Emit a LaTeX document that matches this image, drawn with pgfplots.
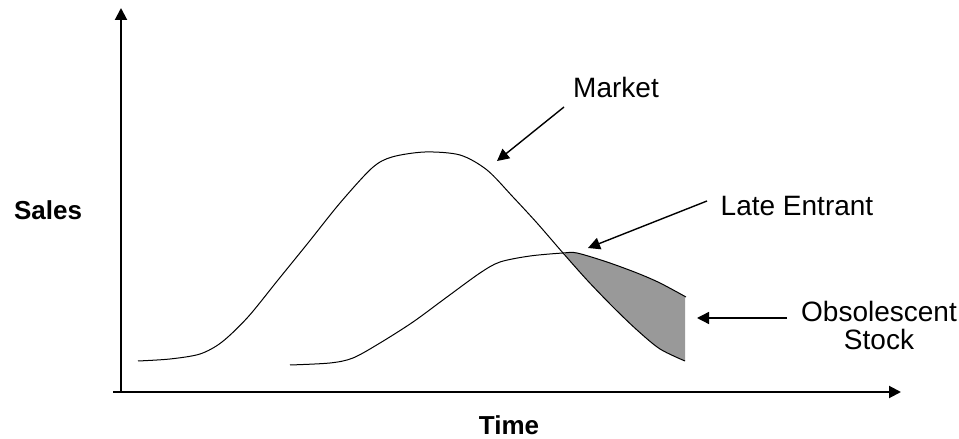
\documentclass[border=0pt]{standalone}
\usepackage{fontspec}
\setmainfont{Liberation Sans}
\usepackage{pgfplots}
\pgfplotsset{compat=1.18}
\usepgfplotslibrary{fillbetween}
\usetikzlibrary{arrows.meta}
\begin{document}
\begin{tikzpicture}
\begin{axis}[
  scale only axis,
  width=479.5pt, height=219.5pt, % 1 px = 0.5 pt
  xmin=0, xmax=959, ymin=0, ymax=439,
  y dir=reverse,
  hide axis,
  clip=false,
]
% frame for the page size
\addplot[draw=none] coordinates {(0,0) (959,439)};

% axes with arrows
\addplot[black, line width=1pt, -{Triangle[length=6pt,width=6pt]}]
  coordinates {(121,393) (121,8)};
\addplot[black, line width=1pt, -{Triangle[length=6pt,width=6pt]}]
  coordinates {(113,392) (901,392)};

% market curve
\addplot[name path=market, black, line width=0.5pt, smooth, tension=0.5] coordinates {
  (138,361) (170,359) (200,354) (222,342) (248,317) (278,280) (308,243)
  (340,203) (372,168) (392,157) (425,152) (460,155) (487,170) (513,197)
  (537,223) (563,253) (587,280) (613,307) (637,330) (660,349) (685,361)
};
% late entrant curve
\addplot[name path=late, black, line width=0.5pt, smooth, tension=0.5] coordinates {
  (290,365) (330,363) (353,358) (380,343) (413,322) (447,297) (480,273)
  (500,262) (530,256) (563,253) (577,253) (607,262) (637,273) (660,283) (686,297)
};
% obsolescent stock
\addplot[fill=black!40, draw=none] fill between[of=late and market, soft clip={domain=565:685}];

% annotation arrows
\addplot[black, line width=0.7pt, -{Triangle[length=6pt,width=6pt]}]
  coordinates {(564,107) (497,161)};
\addplot[black, line width=0.7pt, -{Triangle[length=6pt,width=6pt]}]
  coordinates {(707,201) (588,248)};
\addplot[black, line width=0.7pt, -{Triangle[length=6pt,width=6pt]}]
  coordinates {(787,318) (697,318)};

% labels
\begin{scope}[every node/.style={inner sep=0pt}]
\node[font=\fontsize{14}{16}\selectfont] at (axis cs:616,87) {Market};
\node[font=\fontsize{14}{16}\selectfont] at (axis cs:797,206) {Late Entrant};
\node[font=\fontsize{14}{14}\selectfont, align=center] at (axis cs:879,325) {Obsolescent\\Stock};
\node[font=\bfseries\fontsize{13}{15}\selectfont] at (axis cs:48,210) {Sales};
\node[font=\bfseries\fontsize{13}{15}\selectfont] at (axis cs:509,425) {Time};
\end{scope}
\end{axis}
\end{tikzpicture}
\end{document}
